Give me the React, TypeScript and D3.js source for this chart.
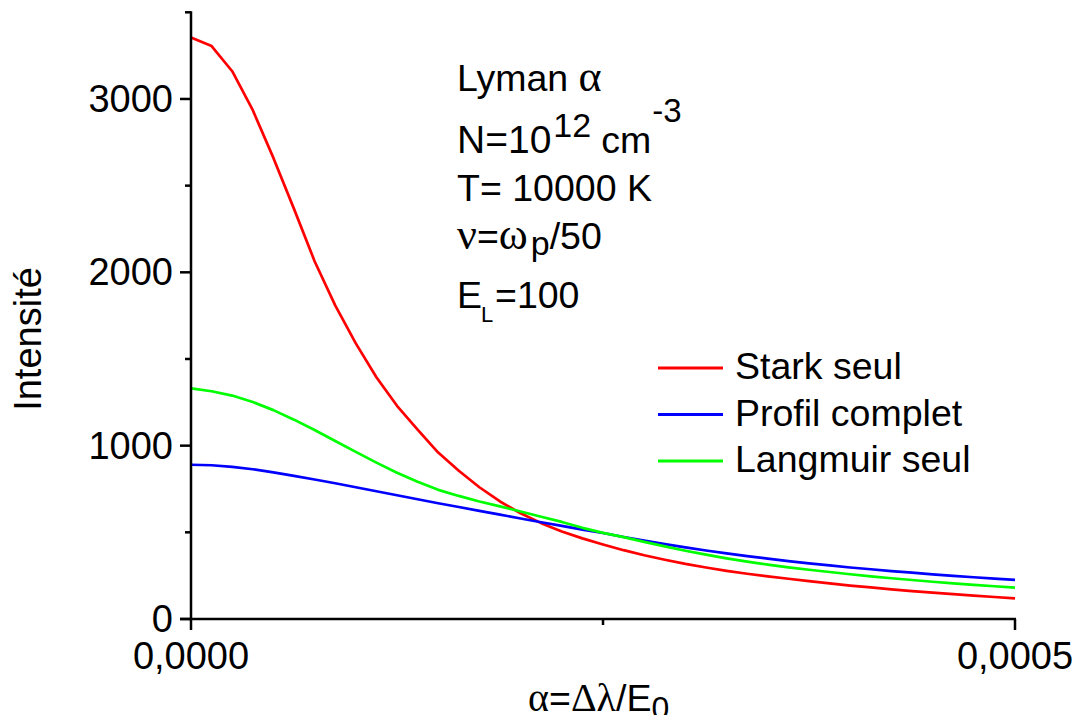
import React from "react";
import * as d3 from "d3";

// Reduced detuning α = Δλ/E0 sampled on a regular grid
const alpha = [
  0, 1.25e-5, 2.5e-5, 3.75e-5, 5e-5, 6.25e-5, 7.5e-5, 8.75e-5, 1e-4, 1.125e-4,
  1.25e-4, 1.375e-4, 1.5e-4, 1.625e-4, 1.75e-4, 1.875e-4, 2e-4, 2.125e-4, 2.25e-4, 2.375e-4,
  2.5e-4, 2.625e-4, 2.75e-4, 2.875e-4, 3e-4, 3.125e-4, 3.25e-4, 3.375e-4, 3.5e-4, 3.625e-4,
  3.75e-4, 3.875e-4, 4e-4, 4.125e-4, 4.25e-4, 4.375e-4, 4.5e-4, 4.625e-4, 4.75e-4, 4.875e-4,
  5e-4,
];

// Stark broadening only
const starkSeul = [
  3355, 3305, 3160, 2935, 2660, 2366, 2064, 1809, 1590, 1395,
  1230, 1093, 960, 855, 760, 678, 610, 553, 505, 465,
  430, 397, 368, 342, 318, 297, 278, 261, 246, 232,
  218, 205, 193, 182, 171, 161, 152, 143, 135, 127,
  119,
];

// Full profile (Stark + Langmuir field)
const profilComplet = [
  890, 887, 878, 864, 846, 826, 805, 783, 760, 737,
  714, 691, 668, 646, 624, 602, 580, 558, 537, 516,
  496, 473, 452, 432, 413, 395, 379, 363, 348, 334,
  321, 309, 297, 287, 276, 267, 257, 249, 241, 233,
  226,
];

// Langmuir field only
const langmuirSeul = [
  1330, 1314, 1289, 1252, 1205, 1150, 1090, 1027, 964, 902,
  844, 792, 745, 710, 678, 650, 620, 590, 560, 526,
  497, 472, 445, 419, 394, 371, 350, 331, 314, 298,
  284, 271, 258, 246, 235, 225, 215, 206, 197, 189,
  181,
];

const yMajorTicks = [0, 1000, 2000, 3000];
const yMinorTicks = [500, 1500, 2500, 3500];
const xMajorTicks = [0, 0.0005];
const xMinorTicks = [0.00025];

const seriesNames = ["Stark seul", "Profil complet", "Langmuir seul"];
const seriesColors = ["#ff0000", "#0000ff", "#00ff00"];
const seriesValues = [starkSeul, profilComplet, langmuirSeul];

const FONT = "'Liberation Sans', Arial, Helvetica, sans-serif";
const GREEK = "'Liberation Serif', 'Times New Roman', serif";

export default function App() {
  const width = 1076;
  const height = 715;
  const x = d3.scaleLinear().domain([0, 0.0005]).range([191, 1015]);
  const y = d3.scaleLinear().domain([0, 3500]).range([619, 12.3]);
  const fmtX = (v: number) => d3.format(".4f")(v).replace(".", ",");

  const line = d3
    .line<number>()
    .x((_, i) => x(alpha[i]))
    .y((d) => y(d))
    .curve(d3.curveLinear);

  const x0 = x.range()[0];
  const y0 = y.range()[0];
  const fs = 37.5;

  return (
    <svg
      width={width}
      height={height}
      style={{ position: "absolute", left: 0, top: 0, background: "#fff" }}
      fontFamily={FONT}
    >
      <rect x={0} y={0} width={width} height={height} fill="#fff" />

      {/* curves */}
      <g fill="none" strokeWidth={2.7} strokeLinejoin="round">
        {seriesValues.map((vals, k) => (
          <path key={seriesNames[k]} d={line(vals) || ""} stroke={seriesColors[k]} />
        ))}
      </g>

      {/* y axis */}
      <g stroke="#000" strokeWidth={2.5}>
        <line x1={x0} x2={x0} y1={y(3500) - 1} y2={y0 + 1} />
        {yMajorTicks.map((t) => (
          <line key={"ymj" + t} x1={x0 - 11} x2={x0} y1={y(t)} y2={y(t)} />
        ))}
        {yMinorTicks.map((t) => (
          <line key={"ymn" + t} x1={x0 - 6} x2={x0} y1={y(t)} y2={y(t)} />
        ))}
      </g>
      <g fontSize={38} textAnchor="end" fill="#000">
        {yMajorTicks.map((t) => (
          <text key={"yl" + t} x={173} y={y(t) + 13}>
            {t}
          </text>
        ))}
      </g>

      {/* x axis */}
      <g stroke="#000" strokeWidth={2.5}>
        <line x1={x0 - 11} x2={x(0.0005) + 1} y1={y0} y2={y0} />
        {xMajorTicks.map((t) => (
          <line key={"xmj" + t} x1={x(t)} x2={x(t)} y1={y0} y2={y0 + 11} />
        ))}
        {xMinorTicks.map((t) => (
          <line key={"xmn" + t} x1={x(t)} x2={x(t)} y1={y0} y2={y0 + 6} />
        ))}
      </g>
      <g fontSize={38} textAnchor="middle" fill="#000">
        {xMajorTicks.map((t) => (
          <text key={"xl" + t} x={x(t)} y={669}>
            {fmtX(t)}
          </text>
        ))}
      </g>

      {/* axis titles */}
      <text x={528} y={711} fontSize={fs} fill="#000">
        <tspan fontFamily={GREEK} fontSize={40}>α</tspan>
        <tspan>=</tspan>
        <tspan fontFamily={GREEK} fontSize={40}>Δλ</tspan>
        <tspan>/E</tspan>
        <tspan fontSize={32} dy={8}>0</tspan>
      </text>
      <text
        transform={`translate(41, 339) rotate(-90)`}
        textAnchor="middle"
        fontSize={38}
        fill="#000"
      >
        Intensité
      </text>

      {/* plasma conditions */}
      <g fontSize={fs} fill="#000">
        <text x={457} y={91}>
          Lyman <tspan fontFamily={GREEK} fontSize={44}>α</tspan>
        </text>
        <text x={457} y={153}>
          <tspan fontSize={39}>N=10</tspan>
          <tspan fontSize={34} dx={2} dy={-16}>12</tspan>
          <tspan fontSize={fs} dx={10} dy={16}>cm</tspan>
          <tspan fontSize={33} dx={1} dy={-31}>-3</tspan>
        </text>
        <text x={457} y={201}>T= 10000 K</text>
        <text x={457} y={249}>
          <tspan fontFamily={GREEK} fontSize={44}>ν</tspan>
          <tspan>=</tspan>
          <tspan fontFamily={GREEK} fontSize={44}>ω</tspan>
          <tspan fontSize={34} dx={3} dy={6}>p</tspan>
          <tspan fontSize={fs} dy={-6}>/50</tspan>
        </text>
        <text x={457} y={308}>
          E
          <tspan x={481} fontSize={22} dy={14}>L</tspan>
          <tspan x={495} fontSize={fs} dy={-14}>=100</tspan>
        </text>
      </g>

      {/* legend */}
      <g>
        {seriesNames.map((name, k) => (
          <g key={name}>
            <line
              x1={658}
              x2={723}
              y1={368 + k * 46.5}
              y2={368 + k * 46.5}
              stroke={seriesColors[k]}
              strokeWidth={3}
            />
            <text x={735} y={379 + k * 46.5} fontSize={fs} fill="#000">
              {name}
            </text>
          </g>
        ))}
      </g>
    </svg>
  );
}
